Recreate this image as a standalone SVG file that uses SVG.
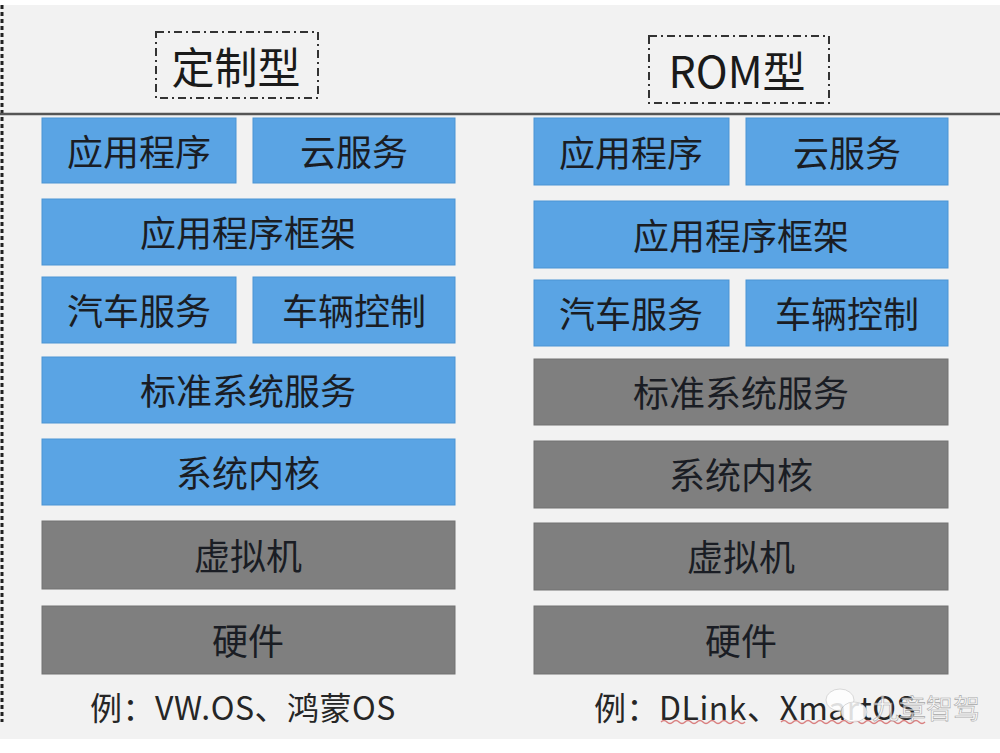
<svg xmlns="http://www.w3.org/2000/svg" width="1000" height="753" viewBox="0 0 1000 753">
<style>
.b{fill:#5aa4e4;stroke:#4a94d4;stroke-width:1}
.g{fill:#7f7f7f;stroke:#737373;stroke-width:1}
.t{font-family:"Noto Sans CJK SC","Microsoft YaHei",sans-serif;font-size:36px;fill:#1a1d24;text-anchor:middle;dominant-baseline:central}
.h{font-family:"Noto Sans CJK SC",sans-serif;font-size:43px;fill:#1a1a1a;text-anchor:middle;dominant-baseline:central}
.f{font-family:"Noto Sans CJK SC",sans-serif;font-size:32px;fill:#262626;dominant-baseline:central;letter-spacing:0.5px}
.dash{fill:none;stroke:#333;stroke-width:2;stroke-dasharray:8 4 2 4}
.wav{fill:none;stroke:#d98080;stroke-width:1.5}
</style>
<rect x="0" y="0" width="1000" height="753" fill="#ffffff"/>
<rect x="0" y="5" width="1000" height="734" fill="#f2f2f2"/>
<g id="frame">
<line x1="2" y1="5" x2="2" y2="722" stroke="#222" stroke-width="3" stroke-dasharray="4 3"/>
<line x1="0" y1="114" x2="1000" y2="114" stroke="#555" stroke-width="2.5"/>
</g>
<g id="title-left"><rect class="dash" x="156" y="32" width="162" height="66"/><text class="h" x="236" y="65">定制型</text></g>
<g id="title-right"><rect class="dash" x="649" y="36" width="180" height="67"/><text class="h" x="737" y="69">ROM型</text></g>

<g id="L-app"><rect class="b" x="42" y="118" width="194" height="65"/><text class="t" x="139" y="150">应用程序</text></g>
<g id="L-cloud"><rect class="b" x="253" y="118" width="202" height="65"/><text class="t" x="354" y="150">云服务</text></g>
<g id="L-fw"><rect class="b" x="42" y="199" width="413" height="66"/><text class="t" x="248" y="231">应用程序框架</text></g>
<g id="L-car"><rect class="b" x="42" y="277" width="194" height="66"/><text class="t" x="139" y="309">汽车服务</text></g>
<g id="L-ctrl"><rect class="b" x="253" y="277" width="202" height="66"/><text class="t" x="354" y="309">车辆控制</text></g>
<g id="L-std"><rect class="b" x="42" y="357" width="413" height="66"/><text class="t" x="248" y="389">标准系统服务</text></g>
<g id="L-kernel"><rect class="b" x="42" y="439" width="413" height="66"/><text class="t" x="248" y="471">系统内核</text></g>
<g id="L-vm"><rect class="g" x="42" y="521" width="413" height="68"/><text class="t" x="248" y="554">虚拟机</text></g>
<g id="L-hw"><rect class="g" x="42" y="606" width="413" height="68"/><text class="t" x="248" y="639">硬件</text></g>

<g id="R-app"><rect class="b" x="534" y="118" width="195" height="67"/><text class="t" x="631" y="151">应用程序</text></g>
<g id="R-cloud"><rect class="b" x="746" y="118" width="202" height="67"/><text class="t" x="847" y="151">云服务</text></g>
<g id="R-fw"><rect class="b" x="534" y="201" width="414" height="67"/><text class="t" x="741" y="234">应用程序框架</text></g>
<g id="R-car"><rect class="b" x="534" y="280" width="195" height="66"/><text class="t" x="631" y="312">汽车服务</text></g>
<g id="R-ctrl"><rect class="b" x="746" y="280" width="202" height="66"/><text class="t" x="847" y="312">车辆控制</text></g>
<g id="R-std"><rect class="g" x="534" y="359" width="414" height="66"/><text class="t" x="741" y="391">标准系统服务</text></g>
<g id="R-kernel"><rect class="g" x="534" y="441" width="414" height="67"/><text class="t" x="741" y="473">系统内核</text></g>
<g id="R-vm"><rect class="g" x="534" y="523" width="414" height="67"/><text class="t" x="741" y="555">虚拟机</text></g>
<g id="R-hw"><rect class="g" x="534" y="606" width="414" height="68"/><text class="t" x="741" y="639">硬件</text></g>

<g id="connectors"></g>

<g id="footer">
<text class="f" x="90" y="706">例：VW.OS、鸿蒙OS</text>
<text class="f" x="594" y="706">例：DLink、XmartOS</text>
<path class="wav" d="M661 722 q3 -3 6 0 t6 0 t6 0 t6 0 t6 0 t6 0 t6 0 t6 0 t6 0 t6 0 t6 0 t6 0 t6 0 t6 0"/>
<path class="wav" d="M781 722 q3 -3 6 0 t6 0 t6 0 t6 0 t6 0 t6 0 t6 0 t6 0 t6 0 t6 0 t6 0 t6 0 t6 0 t6 0 t6 0 t6 0 t6 0 t6 0 t6 0 t6 0 t6 0 t6 0 t6 0 t6 0"/>
</g>
<g id="watermark" opacity="0.85">
<ellipse cx="840" cy="700" rx="14" ry="11" fill="#ffffff" stroke="#bbb" stroke-width="0.6"/>
<ellipse cx="854" cy="712" rx="13" ry="10" fill="#ffffff" stroke="#bbb" stroke-width="0.6"/>
<text x="872" y="707" font-family="Noto Sans CJK SC,sans-serif" font-size="27" fill="#ffffff" fill-opacity="0.8" stroke="#9a9a9a" stroke-width="0.6" dominant-baseline="central">九章智驾</text>
</g>
</svg>
